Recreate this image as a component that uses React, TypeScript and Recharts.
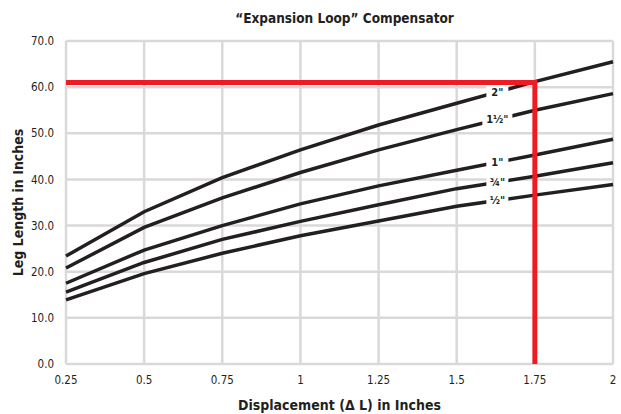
import React from 'react';
import { LineChart, Line, XAxis, YAxis, CartesianGrid, LabelList } from 'recharts';

// displacement (inches) on the x axis
const displacement = [0.25, 0.5, 0.75, 1, 1.25, 1.5, 1.75, 2];

// leg length (inches) per pipe size
const pipe2in = [23.4, 33.0, 40.4, 46.4, 51.8, 56.5, 61.2, 65.5];
const pipe1_5in = [20.8, 29.6, 36.0, 41.5, 46.4, 50.8, 55.0, 58.6];
const pipe1in = [17.5, 24.7, 30.0, 34.7, 38.6, 42.0, 45.3, 48.7];
const pipe3_4in = [15.6, 22.0, 27.0, 30.9, 34.5, 38.0, 40.7, 43.6];
const pipe1_2in = [13.9, 19.6, 24.0, 27.8, 31.0, 34.2, 36.6, 38.9];

const pipeKeys = ['p2', 'p15', 'p1', 'p34', 'p12'];
const pipeSeries = [pipe2in, pipe1_5in, pipe1in, pipe3_4in, pipe1_2in];
const pipeLabels = ['2"', '1½"', '1"', '¾"', '½"'];
const labelAt = 1.63;

const yTicks = [0, 10, 20, 30, 40, 50, 60, 70];

// example reading (red)
const exampleX = 1.75;
const exampleY = 61;

const FONT = '"DejaVu Sans Condensed", "Liberation Sans", sans-serif';
const INK = '#231f20';
const RED = '#ed1c24';
const GRID = '#d9d9d9';

const chartData = displacement.map((x, i) => {
  const row: Record<string, number> = { x };
  pipeKeys.forEach((k, j) => (row[k] = pipeSeries[j][i]));
  return row;
});

const redPath = [
  { x: displacement[0], y: exampleY },
  { x: exampleX, y: exampleY },
  { x: exampleX, y: 0 },
];

// where each size label sits on its curve
const interp = (vals: number[], x: number) => {
  const i = displacement.findIndex((d, k) => d <= x && displacement[k + 1] >= x);
  const t = (x - displacement[i]) / (displacement[i + 1] - displacement[i]);
  return vals[i] + t * (vals[i + 1] - vals[i]);
};
const labelData = pipeSeries.map((vals, j) => ({ x: labelAt, y: interp(vals, labelAt), label: pipeLabels[j] }));

const SizeLabel = (props: any) => {
  const { x, y, value } = props;
  const w = value.length > 2 ? 30 : 22;
  return (
    <g>
      <rect x={x - w / 2} y={y - 6} width={w} height={12} fill="#fff" />
      <text x={x} y={y} dy="0.36em" textAnchor="middle" fontFamily={FONT} fontWeight="bold" fontSize={11} fill={INK}>
        {value}
      </text>
    </g>
  );
};

export default function App() {
  return (
    <div style={{ position: 'absolute', left: 0, top: 0, width: 621, height: 414, background: '#fff' }}>
      <div
        style={{
          position: 'absolute',
          left: 0,
          top: 10,
          width: 689,
          textAlign: 'center',
          fontFamily: FONT,
          fontWeight: 'bold',
          fontSize: 13.5,
          color: INK,
        }}
      >
        “Expansion Loop” Compensator
      </div>
      <LineChart width={621} height={414} data={chartData} margin={{ top: 41, right: 8, bottom: 0, left: 0 }}>
        <CartesianGrid stroke={GRID} strokeWidth={2.5} />
        <XAxis
          dataKey="x"
          type="number"
          domain={[0.25, 2]}
          ticks={displacement}
          height={50}
          axisLine={false}
          tickLine={false}
          tickMargin={6}
          tick={{ fill: INK, fontSize: 11.5, fontFamily: FONT }}
          label={{
            value: 'Displacement (Δ L) in Inches',
            position: 'insideBottom',
            offset: 4,
            fill: INK,
            fontSize: 14,
            fontWeight: 'bold',
            fontFamily: FONT,
          }}
        />
        <YAxis
          type="number"
          domain={[0, 70]}
          ticks={yTicks}
          width={66}
          axisLine={false}
          tickLine={false}
          tickMargin={6}
          tickFormatter={(v: number) => v.toFixed(1)}
          tick={{ fill: INK, fontSize: 11.5, fontFamily: FONT }}
          label={{
            value: 'Leg Length in Inches',
            angle: -90,
            position: 'center',
            dx: -15,
            fill: INK,
            fontSize: 14,
            fontWeight: 'bold',
            fontFamily: FONT,
          }}
        />
        {pipeKeys.map((k) => (
          <Line key={k} type="linear" dataKey={k} stroke={INK} strokeWidth={3.5} dot={false} isAnimationActive={false} />
        ))}
        <Line
          data={redPath}
          dataKey="y"
          type="linear"
          stroke={RED}
          strokeWidth={5}
          strokeLinejoin="miter"
          dot={false}
          isAnimationActive={false}
        />
        <Line data={labelData} dataKey="y" stroke="none" dot={false} isAnimationActive={false}>
          <LabelList dataKey="label" content={SizeLabel} />
        </Line>
      </LineChart>
    </div>
  );
}
